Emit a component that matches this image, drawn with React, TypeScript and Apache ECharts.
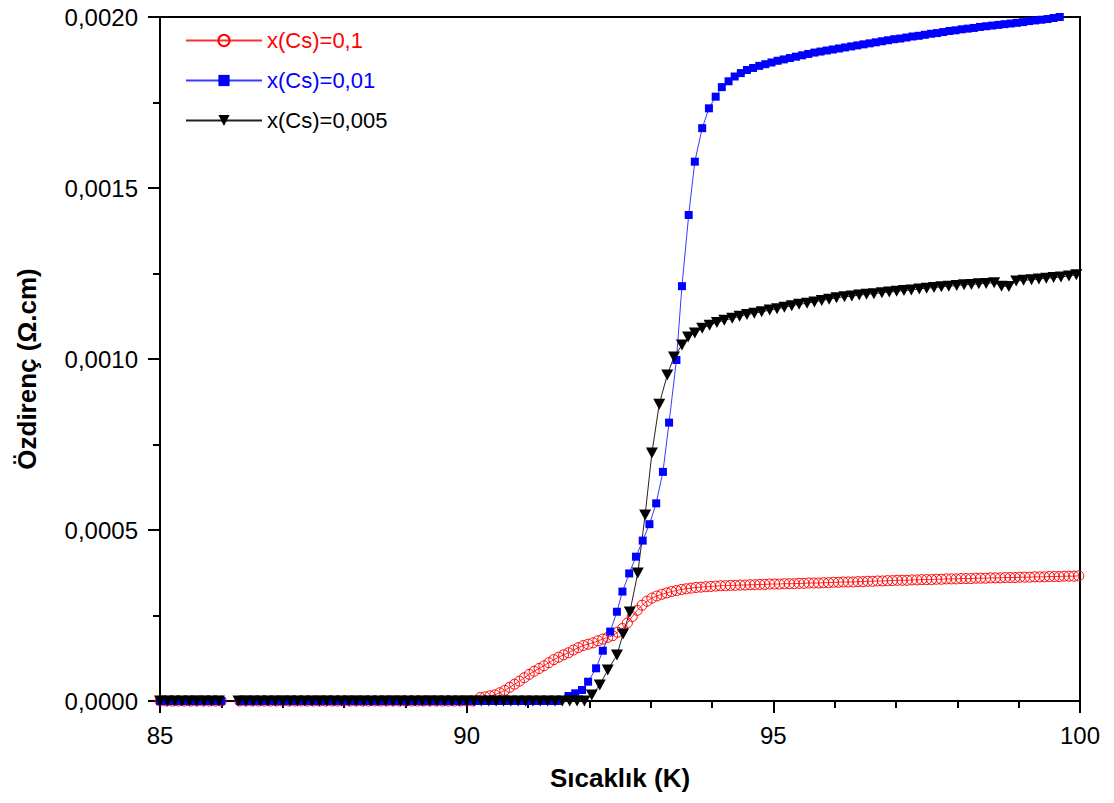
import React, { useEffect, useRef } from "react";
import * as echarts from "echarts";

const seriesNames = ["x(Cs)=0,1", "x(Cs)=0,01", "x(Cs)=0,005"];
const seriesColors = ["#ff0000", "#0000ff", "#000000"];
const xTicks = { min: 85, max: 100, interval: 5 };
const yTicks = { min: 0, max: 0.002, interval: 0.0005 };

// baseline (superconducting state) resistivity
const BASE = 0;

// --- x(Cs)=0,1 (red) ---
const redLowA = [85.0, 85.1, 85.2, 85.3, 85.4, 85.5, 85.6, 85.7, 85.8, 85.9, 86.0];
const redLowB = [86.3, 86.4, 86.5, 86.6, 86.7, 86.8, 86.9, 87.0, 87.1, 87.2, 87.3, 87.4, 87.5, 87.6, 87.7, 87.8, 87.9, 88.0, 88.1, 88.2, 88.3, 88.4, 88.5, 88.6, 88.7, 88.8, 88.9, 89.0, 89.1, 89.2, 89.3, 89.4, 89.5, 89.6, 89.7, 89.8, 89.9, 90.0, 90.1];
const redRise: [number, number][] = [
  [90.22, 0.000010], [90.30, 0.000012], [90.38, 0.000015], [90.46, 0.000018], [90.54, 0.000024],
  [90.62, 0.000031], [90.70, 0.000040], [90.78, 0.000049], [90.86, 0.000058], [90.94, 0.000068],
  [91.02, 0.000078], [91.10, 0.000087], [91.18, 0.000095], [91.26, 0.000103], [91.34, 0.000112],
  [91.42, 0.000121], [91.50, 0.000128], [91.58, 0.000135], [91.66, 0.000141], [91.74, 0.000149],
  [91.82, 0.000156], [91.90, 0.000162], [91.98, 0.000166], [92.06, 0.000170], [92.14, 0.000176],
  [92.22, 0.000181], [92.30, 0.000186], [92.38, 0.000191], [92.46, 0.000201], [92.54, 0.000212],
  [92.62, 0.000228], [92.70, 0.000247], [92.78, 0.000265], [92.86, 0.000280], [92.94, 0.000292],
  [93.02, 0.000301], [93.10, 0.000307], [93.18, 0.000312], [93.26, 0.000316], [93.34, 0.000320],
  [93.42, 0.000323], [93.50, 0.000326], [93.58, 0.000328], [93.66, 0.000330], [93.74, 0.000332],
  [93.82, 0.000333], [93.90, 0.000334], [93.98, 0.000335], [94.06, 0.000336], [94.14, 0.000337],
  [94.22, 0.000337], [94.30, 0.000338], [94.38, 0.000338], [94.46, 0.000339], [94.54, 0.000339],
  [94.62, 0.000340], [94.70, 0.000340], [94.78, 0.000341], [94.86, 0.000341], [94.94, 0.000342],
  [95.02, 0.000342], [95.10, 0.000342], [95.18, 0.000343], [95.26, 0.000343], [95.34, 0.000343],
  [95.42, 0.000344], [95.50, 0.000344], [95.58, 0.000345], [95.66, 0.000345], [95.74, 0.000345],
  [95.82, 0.000346], [95.90, 0.000346], [95.98, 0.000347], [96.06, 0.000347], [96.14, 0.000348],
  [96.22, 0.000348], [96.30, 0.000348], [96.38, 0.000349], [96.46, 0.000349], [96.54, 0.000350],
  [96.62, 0.000350], [96.70, 0.000351], [96.78, 0.000351], [96.86, 0.000352], [96.94, 0.000352],
  [97.02, 0.000353], [97.10, 0.000353], [97.18, 0.000353], [97.26, 0.000354], [97.34, 0.000354],
  [97.42, 0.000355], [97.50, 0.000355], [97.58, 0.000355], [97.66, 0.000356], [97.74, 0.000356],
  [97.82, 0.000357], [97.90, 0.000357], [97.98, 0.000357], [98.06, 0.000358], [98.14, 0.000358],
  [98.22, 0.000358], [98.30, 0.000359], [98.38, 0.000359], [98.46, 0.000359], [98.54, 0.000360],
  [98.62, 0.000360], [98.70, 0.000360], [98.78, 0.000361], [98.86, 0.000361], [98.94, 0.000361],
  [99.02, 0.000362], [99.10, 0.000362], [99.18, 0.000362], [99.26, 0.000363], [99.34, 0.000363],
  [99.42, 0.000363], [99.50, 0.000364], [99.58, 0.000364], [99.66, 0.000364], [99.74, 0.000365],
  [99.82, 0.000365], [99.90, 0.000365], [99.98, 0.000366],
];

// --- x(Cs)=0,01 (blue) ---
const blueLowA = [85.0, 85.1, 85.2, 85.3, 85.4, 85.5, 85.6, 85.7, 85.8, 85.9, 86.0];
const blueLowB = [86.3, 86.4, 86.5, 86.6, 86.7, 86.8, 86.9, 87.0, 87.1, 87.2, 87.3, 87.4, 87.5, 87.6, 87.7, 87.8, 87.9, 88.0, 88.1, 88.2, 88.3, 88.4, 88.5, 88.6, 88.7, 88.8, 88.9, 89.0, 89.1, 89.2, 89.3, 89.4, 89.5, 89.6, 89.7, 89.8, 89.9, 90.0, 90.1, 90.2, 90.3, 90.4, 90.5, 90.6, 90.7, 90.8, 90.9, 91.0, 91.1, 91.2, 91.3, 91.4, 91.5];
const blueRise: [number, number][] = [
  [91.66, 0.0000146], [91.77, 0.0000225], [91.88, 0.0000322], [91.98, 0.0000564], [92.11, 0.0000956],
  [92.22, 0.000147], [92.34, 0.000203], [92.45, 0.000261], [92.54, 0.000320], [92.65, 0.000373],
  [92.76, 0.000422], [92.87, 0.000469], [92.98, 0.000517], [93.09, 0.000578], [93.20, 0.000670],
  [93.30, 0.000814], [93.42, 0.000997], [93.51, 0.001213], [93.62, 0.001421], [93.72, 0.001577],
  [93.84, 0.001675], [93.95, 0.001733], [94.06, 0.001767], [94.16, 0.001795], [94.27, 0.001812],
  [94.37, 0.001826], [94.47, 0.001836], [94.57, 0.001845], [94.67, 0.001851], [94.77, 0.001857],
  [94.87, 0.001862], [94.97, 0.001867], [95.07, 0.001872], [95.17, 0.001876], [95.27, 0.001880],
  [95.37, 0.001884], [95.47, 0.001888], [95.57, 0.001892], [95.67, 0.001896], [95.77, 0.001899],
  [95.87, 0.001902], [95.97, 0.001905], [96.07, 0.001908], [96.17, 0.001911], [96.27, 0.001914],
  [96.37, 0.001917], [96.47, 0.001920], [96.57, 0.001923], [96.67, 0.001926], [96.77, 0.001929],
  [96.87, 0.001932], [96.97, 0.001935], [97.07, 0.001937], [97.17, 0.001940], [97.27, 0.001943],
  [97.37, 0.001945], [97.47, 0.001948], [97.57, 0.001951], [97.67, 0.001953], [97.77, 0.001956],
  [97.87, 0.001959], [97.97, 0.001961], [98.07, 0.001964], [98.17, 0.001966], [98.27, 0.001968],
  [98.37, 0.001971], [98.47, 0.001973], [98.57, 0.001975], [98.67, 0.001977], [98.77, 0.001979],
  [98.87, 0.001981], [98.97, 0.001983], [99.07, 0.001985], [99.17, 0.001988], [99.27, 0.001990],
  [99.37, 0.001992], [99.47, 0.001994], [99.57, 0.001997], [99.67, 0.002000], [99.77, 0.002003],
  [99.87, 0.002006], [99.97, 0.002009],
];

// --- x(Cs)=0,005 (black) ---
const blackLowA = [85.00, 85.12, 85.24, 85.36, 85.48, 85.60, 85.72, 85.84, 85.96];
const blackLowB = [86.28, 86.40, 86.52, 86.64, 86.76, 86.88, 87.00, 87.12, 87.24, 87.36, 87.48, 87.60, 87.72, 87.84, 87.96, 88.08, 88.20, 88.32, 88.44, 88.56, 88.68, 88.80, 88.92, 89.04, 89.16, 89.28, 89.40, 89.52, 89.64, 89.76, 89.88, 90.00, 90.12, 90.24, 90.36, 90.48, 90.60, 90.72, 90.84, 90.96, 91.08, 91.20, 91.32, 91.44, 91.56, 91.68, 91.80, 91.92];
const blackRise: [number, number][] = [
  [92.04, 0.0000175], [92.17, 0.0000468], [92.30, 0.0000906], [92.45, 0.0001345], [92.55, 0.000196],
  [92.66, 0.000260], [92.79, 0.000374], [92.91, 0.000544], [93.02, 0.000725], [93.14, 0.000868],
  [93.27, 0.000953], [93.38, 0.001006], [93.51, 0.001041], [93.61, 0.001064], [93.72, 0.001076],
  [93.84, 0.001090], [93.96, 0.001099], [94.08, 0.001107], [94.20, 0.001113], [94.33, 0.001119],
  [94.45, 0.001125], [94.57, 0.001130], [94.69, 0.001134], [94.81, 0.001138], [94.94, 0.001143],
  [95.06, 0.001147], [95.18, 0.001151], [95.30, 0.001156], [95.42, 0.001160], [95.55, 0.001163],
  [95.67, 0.001167], [95.79, 0.001171], [95.91, 0.001175], [96.03, 0.001179], [96.16, 0.001182],
  [96.28, 0.001184], [96.40, 0.001187], [96.52, 0.001189], [96.64, 0.001191], [96.77, 0.001194],
  [96.89, 0.001196], [97.01, 0.001198], [97.13, 0.001200], [97.25, 0.001202], [97.38, 0.001205],
  [97.50, 0.001207], [97.62, 0.001209], [97.74, 0.001211], [97.86, 0.001213], [97.99, 0.001215],
  [98.11, 0.001217], [98.23, 0.001218], [98.35, 0.001220], [98.47, 0.001221], [98.60, 0.001223],
  [98.72, 0.001213], [98.84, 0.001212], [98.96, 0.001228], [99.08, 0.001230], [99.21, 0.001232],
  [99.33, 0.001234], [99.45, 0.001236], [99.57, 0.001238], [99.69, 0.001240], [99.82, 0.001243],
  [99.94, 0.001246],
];

const FONT = "'Liberation Sans', Arial, sans-serif";

function buildData(lowA: number[], lowB: number[], rise: [number, number][]) {
  const gapT = (lowA[lowA.length - 1] + lowB[0]) / 2;
  return [
    ...lowA.map((t) => [t, BASE]),
    [gapT, "-"],
    ...lowB.map((t) => [t, BASE]),
    ...rise,
  ];
}

export default function App() {
  const ref = useRef<HTMLDivElement>(null);
  useEffect(() => {
    const chart = echarts.init(ref.current!, null, { renderer: "svg" });
    const option: any = {
      animation: false,
      backgroundColor: "#ffffff",
      grid: {
        left: 160,
        right: 34,
        top: 17,
        bottom: 102,
        show: true,
        borderColor: "#000",
        borderWidth: 2,
        backgroundColor: "transparent",
      },
      legend: {
        orient: "vertical",
        left: 185,
        top: 29,
        padding: 0,
        itemWidth: 76,
        itemHeight: 14,
        itemGap: 17,
        textStyle: { fontFamily: FONT, fontSize: 22, lineHeight: 23 },
        data: seriesNames.map((n, i) => ({ name: n, textStyle: { color: seriesColors[i] } })),
      },
      xAxis: {
        type: "value",
        min: xTicks.min,
        max: xTicks.max,
        interval: xTicks.interval,
        name: "Sıcaklık (K)",
        nameLocation: "middle",
        nameGap: 64,
        nameTextStyle: { fontFamily: FONT, fontSize: 26, fontWeight: "bold", color: "#000" },
        axisLine: { show: true, onZero: false, lineStyle: { color: "#000", width: 2 } },
        axisTick: { show: true, inside: false, length: 12, lineStyle: { color: "#000", width: 2 } },
        minorTick: { show: true, splitNumber: 5, length: 7, lineStyle: { color: "#000", width: 2 } },
        axisLabel: { fontFamily: FONT, fontSize: 24, color: "#000", margin: 22 },
        splitLine: { show: false },
      },
      yAxis: {
        type: "value",
        min: yTicks.min,
        max: yTicks.max,
        interval: yTicks.interval,
        name: "Özdirenç (Ω.cm)",
        nameLocation: "middle",
        nameGap: 120,
        nameRotate: 90,
        nameTextStyle: {
          fontFamily: FONT,
          fontSize: 26,
          fontWeight: "bold",
          color: "#000",
          padding: [0, 20, 0, 0],
        },
        axisLine: { show: true, onZero: false, lineStyle: { color: "#000", width: 2 } },
        axisTick: { show: true, inside: false, length: 12, lineStyle: { color: "#000", width: 2 } },
        minorTick: { show: true, splitNumber: 2, length: 7, lineStyle: { color: "#000", width: 2 } },
        axisLabel: {
          fontFamily: FONT,
          fontSize: 24,
          color: "#000",
          margin: 22,
          formatter: (v: number) => v.toFixed(4).replace(".", ","),
        },
        splitLine: { show: false },
      },
      series: [
        {
          name: seriesNames[0],
          type: "line",
          data: buildData(redLowA, redLowB, redRise),
          symbol: "circle",
          symbolSize: 10,
          itemStyle: { color: "rgba(255,255,255,0)", borderColor: "#ff0000", borderWidth: 1 },
          lineStyle: { color: "#ff3030", width: 1 },
          connectNulls: false,
        },
        {
          name: seriesNames[1],
          type: "line",
          data: buildData(blueLowA, blueLowB, blueRise),
          symbol: "rect",
          symbolSize: 8,
          itemStyle: { color: "#0000ff" },
          lineStyle: { color: "#3a3aff", width: 1 },
          connectNulls: false,
        },
        {
          name: seriesNames[2],
          type: "line",
          data: buildData(blackLowA, blackLowB, blackRise),
          symbol: "triangle",
          symbolRotate: 180,
          symbolSize: [12, 11],
          itemStyle: { color: "#000000" },
          lineStyle: { color: "#222222", width: 1 },
          connectNulls: false,
        },
      ],
    };
    chart.setOption(option);
    return () => chart.dispose();
  }, []);
  return (
    <div
      ref={ref}
      style={{ position: "fixed", left: 0, top: 0, width: 1114, height: 803, background: "#fff" }}
    />
  );
}
